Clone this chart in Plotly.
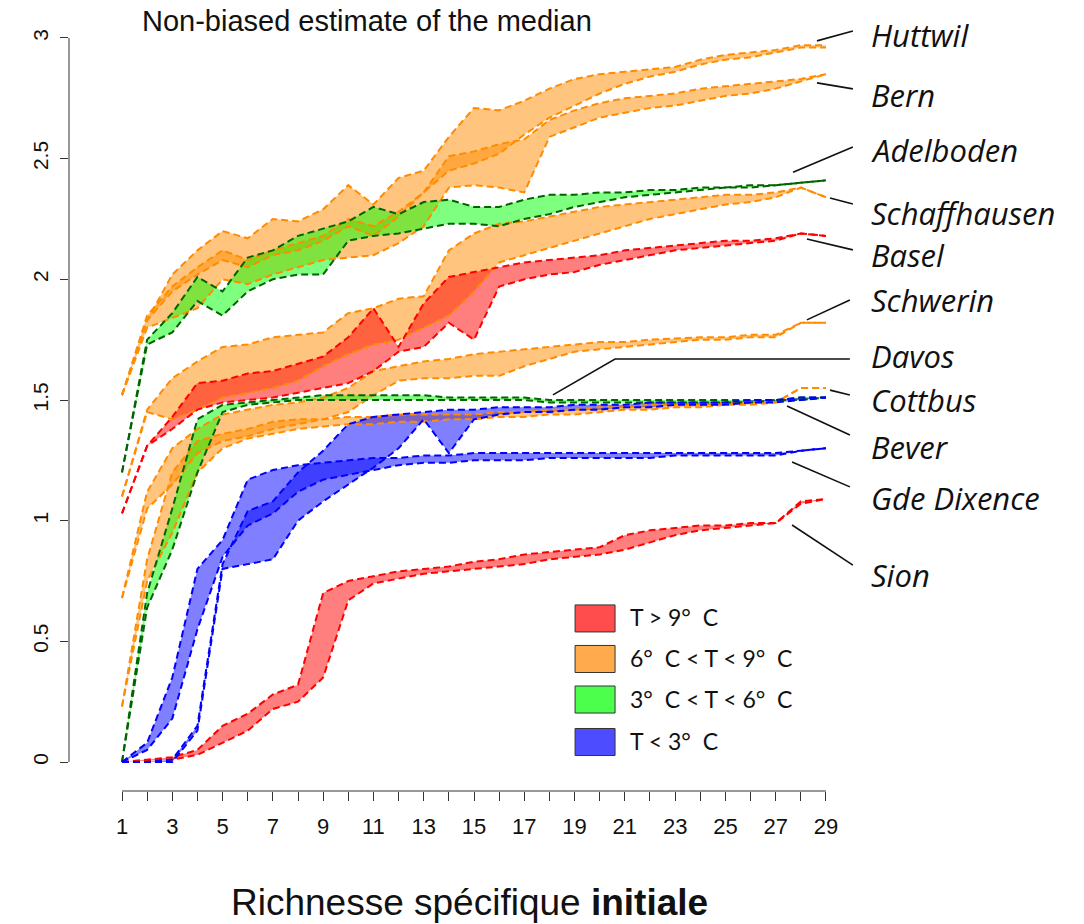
import plotly.graph_objects as go

# ---------------- data ----------------
x_vals = list(range(1, 30))
x_tick_vals = list(range(1, 30))
x_tick_text = [str(v) if v % 2 == 1 else "" for v in x_tick_vals]
y_tick_vals = [0, 0.5, 1, 1.5, 2, 2.5, 3]
y_tick_text = ["0", "0.5", "1", "1.5", "2", "2.5", "3"]

huttwil_lo = [1.52, 1.83, 1.95, 2.02, 2.08, 2.05, 2.10, 2.12, 2.16, 2.22, 2.18, 2.26, 2.36, 2.45, 2.48, 2.52, 2.60, 2.67, 2.72, 2.77, 2.81, 2.84, 2.86, 2.89, 2.91, 2.92, 2.94, 2.96, 2.96]
huttwil_hi = [1.52, 1.83, 2.02, 2.12, 2.20, 2.17, 2.25, 2.24, 2.29, 2.39, 2.31, 2.42, 2.45, 2.59, 2.71, 2.70, 2.74, 2.79, 2.83, 2.85, 2.86, 2.87, 2.88, 2.91, 2.93, 2.94, 2.95, 2.97, 2.97]
bern_lo = [1.52, 1.80, 1.84, 1.88, 2.00, 1.98, 2.02, 2.05, 2.08, 2.09, 2.10, 2.15, 2.22, 2.38, 2.39, 2.38, 2.36, 2.59, 2.63, 2.67, 2.69, 2.71, 2.72, 2.74, 2.76, 2.77, 2.79, 2.82, 2.85]
bern_hi = [1.52, 1.85, 1.97, 2.05, 2.12, 2.08, 2.12, 2.15, 2.18, 2.25, 2.22, 2.28, 2.36, 2.51, 2.53, 2.56, 2.58, 2.66, 2.70, 2.73, 2.75, 2.76, 2.77, 2.79, 2.80, 2.81, 2.82, 2.83, 2.85]
adelboden_lo = [1.20, 1.73, 1.78, 1.91, 1.85, 1.95, 2.00, 2.02, 2.02, 2.16, 2.18, 2.19, 2.21, 2.23, 2.23, 2.22, 2.25, 2.27, 2.30, 2.32, 2.34, 2.35, 2.36, 2.37, 2.38, 2.38, 2.39, 2.40, 2.41]
adelboden_hi = [1.20, 1.75, 1.86, 2.01, 1.95, 2.09, 2.12, 2.18, 2.21, 2.24, 2.30, 2.27, 2.32, 2.33, 2.30, 2.30, 2.33, 2.35, 2.35, 2.36, 2.36, 2.37, 2.37, 2.38, 2.38, 2.39, 2.39, 2.40, 2.41]
schaffhausen_lo = [1.10, 1.45, 1.42, 1.46, 1.51, 1.53, 1.55, 1.58, 1.64, 1.69, 1.73, 1.75, 1.80, 1.85, 1.95, 2.07, 2.10, 2.13, 2.16, 2.19, 2.22, 2.25, 2.27, 2.29, 2.31, 2.32, 2.34, 2.38, 2.34]
schaffhausen_hi = [1.10, 1.46, 1.59, 1.66, 1.72, 1.73, 1.76, 1.77, 1.78, 1.86, 1.88, 1.92, 1.93, 2.12, 2.19, 2.23, 2.24, 2.26, 2.28, 2.30, 2.31, 2.32, 2.33, 2.34, 2.35, 2.35, 2.36, 2.38, 2.34]
basel_lo = [1.03, 1.31, 1.38, 1.46, 1.49, 1.50, 1.51, 1.53, 1.55, 1.57, 1.62, 1.70, 1.72, 1.82, 1.75, 1.97, 2.00, 2.02, 2.03, 2.06, 2.08, 2.10, 2.12, 2.13, 2.14, 2.15, 2.16, 2.19, 2.18]
basel_hi = [1.03, 1.31, 1.43, 1.57, 1.58, 1.61, 1.62, 1.65, 1.68, 1.76, 1.88, 1.72, 1.90, 2.01, 2.03, 2.05, 2.07, 2.08, 2.09, 2.10, 2.12, 2.13, 2.14, 2.15, 2.16, 2.16, 2.17, 2.19, 2.18]
schwerin_lo = [0.68, 1.05, 1.15, 1.28, 1.33, 1.35, 1.38, 1.40, 1.42, 1.45, 1.52, 1.58, 1.59, 1.59, 1.60, 1.60, 1.64, 1.67, 1.70, 1.71, 1.72, 1.73, 1.74, 1.75, 1.75, 1.76, 1.76, 1.82, 1.82]
schwerin_hi = [0.68, 1.12, 1.30, 1.38, 1.44, 1.46, 1.48, 1.49, 1.51, 1.55, 1.62, 1.64, 1.66, 1.67, 1.69, 1.70, 1.71, 1.72, 1.73, 1.74, 1.74, 1.75, 1.755, 1.76, 1.76, 1.77, 1.77, 1.82, 1.82]
davos_lo = [0.00, 0.64, 0.88, 1.20, 1.45, 1.48, 1.49, 1.50, 1.50, 1.50, 1.50, 1.50, 1.50, 1.50, 1.50, 1.50, 1.50, 1.49, 1.49, 1.49, 1.49, 1.49, 1.49, 1.49, 1.49, 1.49, 1.50, 1.50, 1.51]
davos_hi = [0.00, 0.70, 1.05, 1.42, 1.48, 1.49, 1.50, 1.51, 1.52, 1.52, 1.52, 1.52, 1.52, 1.51, 1.51, 1.51, 1.51, 1.50, 1.50, 1.50, 1.50, 1.50, 1.50, 1.50, 1.50, 1.50, 1.50, 1.51, 1.51]
cottbus_lo = [0.23, 0.75, 0.95, 1.20, 1.30, 1.34, 1.36, 1.38, 1.39, 1.40, 1.40, 1.41, 1.41, 1.42, 1.42, 1.43, 1.43, 1.44, 1.44, 1.45, 1.46, 1.46, 1.47, 1.47, 1.48, 1.48, 1.49, 1.55, 1.55]
cottbus_hi = [0.23, 0.84, 1.20, 1.33, 1.36, 1.38, 1.41, 1.42, 1.42, 1.43, 1.43, 1.44, 1.44, 1.44, 1.44, 1.45, 1.45, 1.46, 1.46, 1.47, 1.47, 1.48, 1.48, 1.48, 1.49, 1.49, 1.49, 1.55, 1.55]
bever_lo = [0.00, 0.00, 0.00, 0.13, 0.80, 0.82, 0.84, 1.00, 1.08, 1.15, 1.22, 1.30, 1.42, 1.28, 1.42, 1.44, 1.45, 1.45, 1.46, 1.46, 1.47, 1.47, 1.48, 1.48, 1.48, 1.49, 1.49, 1.50, 1.51]
bever_hi = [0.00, 0.00, 0.01, 0.15, 0.82, 1.04, 1.08, 1.20, 1.29, 1.40, 1.43, 1.44, 1.45, 1.46, 1.46, 1.47, 1.47, 1.47, 1.48, 1.48, 1.48, 1.49, 1.49, 1.49, 1.49, 1.50, 1.50, 1.51, 1.51]
dixence_lo = [0.00, 0.05, 0.18, 0.55, 0.85, 0.98, 1.03, 1.12, 1.17, 1.19, 1.21, 1.23, 1.24, 1.24, 1.25, 1.25, 1.25, 1.26, 1.26, 1.26, 1.26, 1.26, 1.27, 1.27, 1.27, 1.27, 1.27, 1.29, 1.30]
dixence_hi = [0.00, 0.08, 0.35, 0.80, 0.92, 1.17, 1.21, 1.23, 1.24, 1.25, 1.26, 1.26, 1.27, 1.27, 1.28, 1.28, 1.28, 1.28, 1.28, 1.28, 1.28, 1.28, 1.28, 1.28, 1.28, 1.28, 1.28, 1.29, 1.30]
sion_lo = [0.00, 0.005, 0.01, 0.03, 0.08, 0.13, 0.22, 0.25, 0.35, 0.67, 0.74, 0.76, 0.78, 0.79, 0.80, 0.81, 0.82, 0.84, 0.85, 0.86, 0.88, 0.91, 0.94, 0.96, 0.97, 0.98, 0.99, 1.07, 1.09]
sion_hi = [0.00, 0.01, 0.02, 0.05, 0.15, 0.20, 0.28, 0.32, 0.70, 0.75, 0.77, 0.79, 0.80, 0.81, 0.83, 0.84, 0.86, 0.87, 0.88, 0.89, 0.94, 0.96, 0.97, 0.98, 0.98, 0.99, 0.99, 1.08, 1.09]

station_names = ["Huttwil", "Bern", "Schaffhausen", "Schwerin", "Cottbus",
                 "Basel", "Sion", "Adelboden", "Davos", "Bever", "Gde Dixence"]
station_class = ["orange", "orange", "orange", "orange", "orange",
                 "red", "red", "green", "green", "blue", "blue"]
station_lo = [huttwil_lo, bern_lo, schaffhausen_lo, schwerin_lo, cottbus_lo,
              basel_lo, sion_lo, adelboden_lo, davos_lo, bever_lo, dixence_lo]
station_hi = [huttwil_hi, bern_hi, schaffhausen_hi, schwerin_hi, cottbus_hi,
              basel_hi, sion_hi, adelboden_hi, davos_hi, bever_hi, dixence_hi]

# label positions (value axis) and leader-line anchors (data units)
label_names = ["Huttwil", "Bern", "Adelboden", "Schaffhausen", "Basel", "Schwerin",
               "Davos", "Cottbus", "Bever", "Gde Dixence", "Sion"]
label_y = [3.012, 2.764, 2.536, 2.275, 2.101, 1.914, 1.682, 1.500, 1.305, 1.094, 0.775]
leader_x = [[28.64, 30.07], [28.64, 30.07], [27.69, 30.07], [29.16, 30.07], [28.24, 30.07],
            [28.24, 29.95], [18.14, 20.61, 29.95], [29.16, 29.95], [27.45, 29.95],
            [27.65, 29.95], [27.65, 30.07]]
leader_y = [[2.988, 3.029], [2.814, 2.789], [2.444, 2.548], [2.337, 2.312], [2.167, 2.122],
            [1.832, 1.914], [1.521, 1.670, 1.670], [1.541, 1.521], [1.475, 1.355],
            [1.243, 1.140], [0.982, 0.816]]

legend_labels = ["T > 9°  C", "6°  C < T < 9°  C", "3°  C < T < 6°  C", "T < 3°  C"]
legend_classes = ["red", "orange", "green", "blue"]

# ---------------- styles ----------------
line_col = {"red": "#ff0000", "orange": "#ff8c00", "green": "#006400", "blue": "#0000ff"}
fill_col = {"red": "rgba(255,0,0,0.5)", "orange": "rgba(255,140,0,0.5)",
            "green": "rgba(0,255,0,0.5)", "blue": "rgba(0,0,255,0.5)"}
legend_col = {"red": "#ff4d4d", "orange": "#ffab4d", "green": "#4dff4d", "blue": "#4d4dff"}

X0, X1 = -1.108, 30.114
Y0, Y1 = -0.12, 3.12


def xp(v):
    return (v - X0) / (X1 - X0)


def yp(v):
    return (v - Y0) / (Y1 - Y0)


fig = go.Figure()
DASH = "7px,4px"

for name, cls, lo, hi in zip(station_names, station_class, station_lo, station_hi):
    fig.add_trace(go.Scatter(
        x=x_vals + x_vals[::-1], y=hi + lo[::-1], fill="toself",
        fillcolor=fill_col[cls], line=dict(width=0), mode="lines",
        hoverinfo="skip", showlegend=False, name=name))
for name, cls, lo, hi in zip(station_names, station_class, station_lo, station_hi):
    for arr in (hi, lo):
        fig.add_trace(go.Scatter(
            x=x_vals, y=arr, mode="lines",
            line=dict(color=line_col[cls], width=2, dash=DASH),
            showlegend=False, name=name))

# leader lines
for lx, ly in zip(leader_x, leader_y):
    fig.add_trace(go.Scatter(x=lx, y=ly, mode="lines",
                             line=dict(color="#111111", width=1.6),
                             showlegend=False, hoverinfo="skip", cliponaxis=False))

annotations = []
for name, ly in zip(label_names, label_y):
    annotations.append(dict(
        x=xp(30.7), y=yp(ly), xref="paper", yref="paper", xanchor="left", yanchor="middle",
        text="<i>" + name + "</i>", showarrow=False,
        font=dict(family="Open Sans", size=31, color="#111111")))

# legend (rectangles + text)
shapes = []
leg_y = [0.595, 0.427, 0.259, 0.083]
for cls, lab, cy in zip(legend_classes, legend_labels, leg_y):
    shapes.append(dict(type="rect", xref="x", yref="y", x0=19.02, x1=20.61,
                       y0=cy - 0.056, y1=cy + 0.056,
                       fillcolor=legend_col[cls], line=dict(color="#333333", width=1)))
    annotations.append(dict(x=21.12, y=cy + 0.004, xref="x", yref="y", xanchor="left",
                            yanchor="middle", text=lab, showarrow=False,
                            font=dict(family="Lato", size=23, color="#111111")))

# axis lines (R style)
shapes.append(dict(type="line", xref="paper", yref="paper", x0=xp(1), x1=xp(29), y0=0, y1=0,
                   line=dict(color="#333333", width=1)))
shapes.append(dict(type="line", xref="paper", yref="paper", x0=0, x1=0, y0=yp(0), y1=yp(3),
                   line=dict(color="#333333", width=1)))

annotations.append(dict(x=1.72, y=3.072, xref="x", yref="y", xanchor="left", yanchor="middle",
                        text="Non-biased estimate of the median", showarrow=False,
                        font=dict(family="Liberation Sans", size=29, color="#111111")))
annotations.append(dict(x=0.51, y=-0.143, xref="paper", yref="paper", xanchor="center",
                        yanchor="middle", text="Richnesse spécifique <b>initiale</b>",
                        showarrow=False,
                        font=dict(family="Liberation Sans", size=37, color="#111111")))

fig.update_layout(
    width=1084, height=924,
    margin=dict(l=69, r=230, t=9, b=133),
    plot_bgcolor="white", paper_bgcolor="white",
    showlegend=False,
    shapes=shapes, annotations=annotations,
    xaxis=dict(range=[X0, X1], tickvals=x_tick_vals, ticktext=x_tick_text,
               ticks="outside", ticklen=9, tickwidth=1, tickcolor="#333333",
               showgrid=False, zeroline=False, showline=False,
               ticklabelstandoff=7,
               tickfont=dict(family="Liberation Sans", size=22, color="#111111")),
    yaxis=dict(range=[Y0, Y1], tickvals=y_tick_vals, ticktext=y_tick_text,
               tickangle=-90, ticks="outside", ticklen=8, tickwidth=1, tickcolor="#333333",
               showgrid=False, zeroline=False, showline=False,
               ticklabelstandoff=4,
               tickfont=dict(family="Liberation Sans", size=21, color="#111111")),
)

fig.write_html("out.html",
               config={"displayModeBar": False},
               post_script="document.body.style.margin='0';document.body.style.overflow='hidden';")
